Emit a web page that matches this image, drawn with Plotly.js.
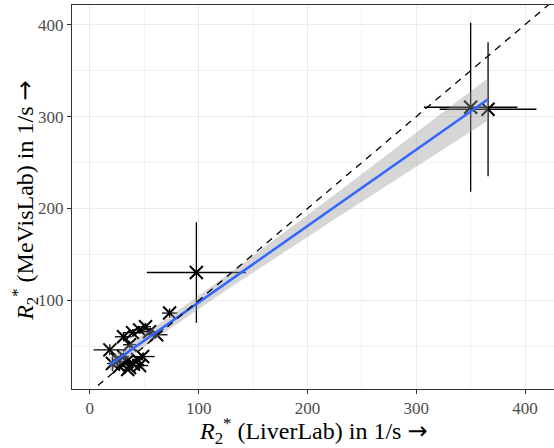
<!DOCTYPE html>
<html>
<head>
<meta charset="utf-8">
<script src="https://cdn.plot.ly/plotly-3.0.1.min.js"></script>
<style>html,body{margin:0;padding:0;background:#fff;}#chart{width:554px;height:448px;}</style>
</head>
<body>
<div id="chart"></div>
<script>
// R2* measured with LiverLab (x) and MeVisLab (y), with standard deviations
const liverlab   = [350, 366, 97.9, 73.3, 18.4, 31, 39.3, 45.7, 51.2, 54.9, 61.4, 36.5, 20.8, 27.3, 33.7, 39.3, 43.9, 48.5, 31, 36.5, 25.5, 34.8, 45.7];
const mevislab   = [310.2, 308, 130.4, 86.3, 46.3, 60.5, 65, 68, 71.4, 66, 62.7, 51.8, 31.4, 28.1, 33.5, 31.4, 35.7, 39, 39, 27, 35.7, 25, 29.2];
const liverlabSD = [43, 44.5, 45.5, 7, 15, 8, 9, 6, 5, 8, 10, 6, 5, 6, 5, 6, 5, 11, 5, 4, 4, 5, 8];
const mevislabSD = [92, 72.8, 54.7, 5, 6, 5, 4, 4, 3, 4, 3, 4, 8, 5, 4, 5, 4, 4, 4, 4, 4, 2, 6];

const xTicks = [0, 100, 200, 300, 400];
const yTicks = [100, 200, 300, 400];

// linear model with 95% confidence band (like geom_smooth(method = "lm"))
const n = liverlab.length;
const xbar = liverlab.reduce((a, b) => a + b, 0) / n;
const ybar = mevislab.reduce((a, b) => a + b, 0) / n;
let sxx = 0, sxy = 0;
for (let i = 0; i < n; i++) { sxx += (liverlab[i] - xbar) ** 2; sxy += (liverlab[i] - xbar) * (mevislab[i] - ybar); }
const b1 = sxy / sxx, b0 = ybar - b1 * xbar;
let sse = 0;
for (let i = 0; i < n; i++) sse += (mevislab[i] - b0 - b1 * liverlab[i]) ** 2;
const df = n - 2, s = Math.sqrt(sse / df);
const z = 1.959964;
const tq = z + (z ** 3 + z) / (4 * df) + (5 * z ** 5 + 16 * z ** 3 + 3 * z) / (96 * df ** 2)
         + (3 * z ** 7 + 19 * z ** 5 + 17 * z ** 3 - 15 * z) / (384 * df ** 3);
const xmin = Math.min(...liverlab), xmax = Math.max(...liverlab);
const fx = [], fy = [], lo = [], hi = [];
for (let k = 0; k < 80; k++) {
  const x = xmin + (xmax - xmin) * k / 79;
  const y = b0 + b1 * x;
  const se = s * Math.sqrt(1 / n + (x - xbar) ** 2 / sxx);
  fx.push(x); fy.push(y); lo.push(y - tq * se); hi.push(y + tq * se);
}
const lims = [-20, 440];

const serif = 'Liberation Serif, Times New Roman, serif';
const arrow = '<span style="font-family:DejaVu Sans">→</span>';
const traces = [
  {
    x: liverlab, y: mevislab, type: 'scatter', mode: 'markers', showlegend: false, hoverinfo: 'skip',
    marker: { symbol: 'x-thin', size: 13, color: '#000', line: { color: '#000', width: 2 } },
    error_x: { type: 'data', array: liverlabSD, visible: true, width: 0, thickness: 1.3, color: '#000' },
    error_y: { type: 'data', array: mevislabSD, visible: true, width: 0, thickness: 1.3, color: '#000' }
  },
  { x: fx, y: lo, type: 'scatter', mode: 'lines', line: { width: 0 }, showlegend: false, hoverinfo: 'skip' },
  { x: fx, y: hi, type: 'scatter', mode: 'lines', line: { width: 0 }, fill: 'tonexty',
    fillcolor: 'rgba(153,153,153,0.4)', showlegend: false, hoverinfo: 'skip' },
  { x: fx, y: fy, type: 'scatter', mode: 'lines', line: { color: '#3366FF', width: 2.5 }, showlegend: false, hoverinfo: 'skip' },
  { x: lims, y: lims, type: 'scatter', mode: 'lines', line: { color: '#000', width: 1.3, dash: '7px,6px' }, showlegend: false, hoverinfo: 'skip' }
];

const axisCommon = {
  showgrid: true, gridcolor: '#EBEBEB', gridwidth: 1.1, zeroline: false,
  showline: true, linecolor: '#333333', linewidth: 1, mirror: true,
  ticks: 'outside', ticklen: 4, tickwidth: 1, tickcolor: '#333333',
  tickfont: { family: serif, size: 17, color: '#4D4D4D' },
  tickmode: 'array'
};

const layout = {
  width: 554, height: 448,
  margin: { l: 72, r: 0, t: 5, b: 59 },
  paper_bgcolor: '#fff', plot_bgcolor: '#fff',
  xaxis: Object.assign({}, axisCommon, { range: [-16.4, 426.6], tickvals: xTicks, ticktext: xTicks.map(String),
    minor: { tick0: 50, dtick: 100, showgrid: true, gridcolor: '#EBEBEB', gridwidth: 0.6, ticks: '' } }),
  yaxis: Object.assign({}, axisCommon, { range: [3.7, 421.4], tickvals: yTicks, ticktext: yTicks.map(String),
    minor: { tick0: 50, dtick: 100, showgrid: true, gridcolor: '#EBEBEB', gridwidth: 0.6, ticks: '' } }),
  annotations: [
    { xref: 'paper', yref: 'paper', x: 0.5, y: 0, yshift: -24, xanchor: 'center', yanchor: 'top', showarrow: false, borderpad: 0,
      text: '<i>R</i><sub>2</sub><sup>*</sup> (LiverLab) in 1/s ' + arrow, font: { family: serif, size: 24, color: '#000' } },
    { xref: 'paper', yref: 'paper', x: 0, y: 0.49, xshift: -47, xanchor: 'center', yanchor: 'middle', showarrow: false, textangle: -90, borderpad: 0,
      text: '<i>R</i><sub>2</sub><sup>*</sup> (MeVisLab) in 1/s ' + arrow, font: { family: serif, size: 24, color: '#000' } }
  ]
};

Plotly.newPlot('chart', traces, layout, { staticPlot: true, displayModeBar: false });
</script>
</body>
</html>
